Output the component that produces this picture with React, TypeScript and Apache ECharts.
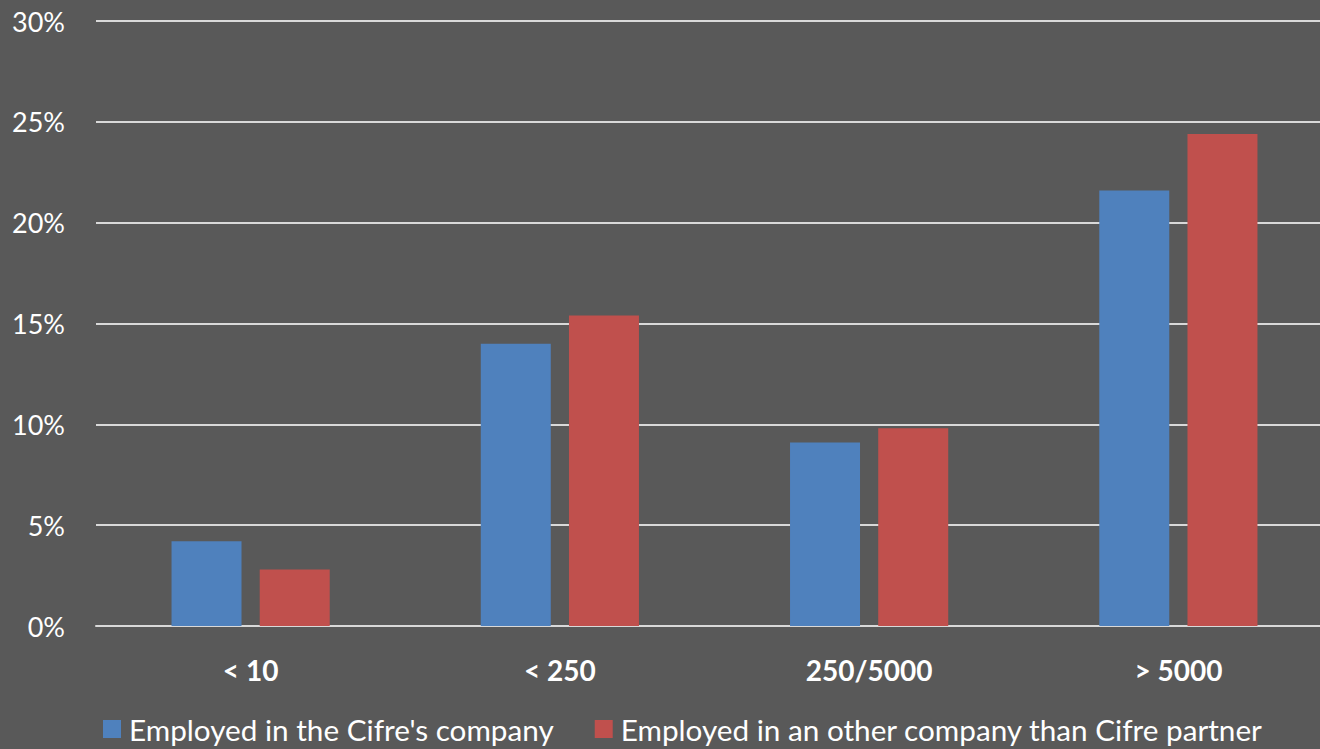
import React, { useEffect, useRef } from "react";
import * as echarts from "echarts";

const categories = ["< 10", "< 250", "250/5000", "> 5000"];
const seriesNames = [
  "Employed in the Cifre's company",
  "Employed in an other company than Cifre partner",
];
const cifreCompany = [4.2, 14.0, 9.1, 21.6];
const otherCompany = [2.8, 15.4, 9.8, 24.4];
const yTicks = { min: 0, max: 30, interval: 5 };

export default function App() {
  const ref = useRef<HTMLDivElement>(null);
  useEffect(() => {
    if (!ref.current) return;
    const chart = echarts.init(ref.current, undefined, { renderer: "svg" });
    const font = "Lato";
    chart.setOption({
      animation: false,
      backgroundColor: "#595959",
      grid: { left: 96, right: 0, top: 21, bottom: 123, containLabel: false, outerBoundsMode: "none" },
      legend: {
        bottom: 0,
        left: 98,
        itemWidth: 18,
        itemHeight: 18,
        itemGap: 41,
        icon: "rect",
        textStyle: { color: "#FFFFFF", fontSize: 29.7, fontFamily: font, padding: [0, 0, 0, 3] },
        data: seriesNames,
      },
      xAxis: {
        type: "category",
        data: categories,
        axisLine: { show: true, lineStyle: { color: "#D9D9D9", width: 2 } },
        axisTick: { show: false },
        axisLabel: {
          color: "#FFFFFF",
          fontSize: 28,
          fontWeight: "bold",
          fontFamily: font,
          margin: 30,
        },
      },
      yAxis: {
        type: "value",
        min: yTicks.min,
        max: yTicks.max,
        interval: yTicks.interval,
        axisLine: { show: false },
        axisTick: { show: false },
        splitLine: { lineStyle: { color: "#D9D9D9", width: 2 } },
        axisLabel: {
          color: "#FFFFFF",
          fontSize: 27,
          fontFamily: font,
          margin: 31,
          formatter: "{value}%",
        },
      },
      series: [
        {
          name: seriesNames[0],
          type: "bar",
          data: cifreCompany,
          barWidth: 70,
          barGap: "26%",
          itemStyle: { color: "#4F81BD" },
        },
        {
          name: seriesNames[1],
          type: "bar",
          data: otherCompany,
          barWidth: 70,
          barGap: "26%",
          itemStyle: { color: "#C0504D" },
        },
      ],
    });
    return () => chart.dispose();
  }, []);
  return (
    <div
      style={{
        position: "absolute",
        left: 0,
        top: 0,
        width: 1320,
        height: 749,
        overflow: "hidden",
        background: "#595959",
      }}
    >
      <div ref={ref} style={{ width: 1333, height: 749 }} />
    </div>
  );
}
